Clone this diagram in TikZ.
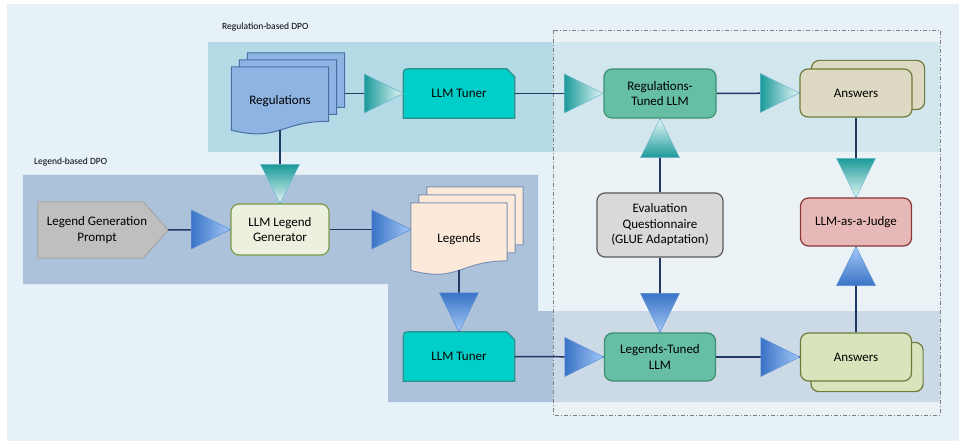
\documentclass[tikz,border=0pt]{standalone}
\usepackage{fontspec}
\setmainfont{Carlito}
\usetikzlibrary{calc}

\pgfdeclarelayer{back}
\pgfdeclarelayer{shapes}
\pgfsetlayers{back,shapes,main}

\definecolor{outerbg}{HTML}{E7F2F8}
\definecolor{regband}{HTML}{B4DAE6}
\definecolor{legband}{HTML}{ABC2DA}
\definecolor{evalfill}{HTML}{EEF2F4}
\definecolor{evalline}{HTML}{7F7F7F}
\definecolor{regfill}{HTML}{8EB4E3}
\definecolor{regdraw}{HTML}{4A6FA5}
\definecolor{tunerfill}{HTML}{00CFC9}
\definecolor{tunerdraw}{HTML}{2F8F8A}
\definecolor{tunedfill}{HTML}{66BFA4}
\definecolor{tuneddraw}{HTML}{3E8E72}
\definecolor{ansAfill}{HTML}{DDD9C3}
\definecolor{ansBfill}{HTML}{D8E4BC}
\definecolor{ansdraw}{HTML}{6D7C3B}
\definecolor{judgefill}{HTML}{E6B8B7}
\definecolor{judgedraw}{HTML}{8C3836}
\definecolor{questfill}{HTML}{D9D9D9}
\definecolor{questdraw}{HTML}{595959}
\definecolor{promptfill}{HTML}{BFBFBF}
\definecolor{promptdraw}{HTML}{A5A5A5}
\definecolor{genfill}{HTML}{EBF1DE}
\definecolor{gendraw}{HTML}{7A9A45}
\definecolor{legfill}{HTML}{FDE9D9}
\definecolor{legdraw}{HTML}{7D93B5}
\definecolor{navy}{HTML}{1F3864}
\definecolor{tealdk}{HTML}{1A9A9A}
\definecolor{teallt}{HTML}{E6F6F6}
\definecolor{tealedge}{HTML}{6EB7CF}
\definecolor{bluedk}{HTML}{3A73C6}
\definecolor{bluelt}{HTML}{A3C8F8}
\definecolor{blueedge}{HTML}{5B8ED6}

% one page of a document stack, shifted by (#2,#3)
\newcommand{\docpage}[4]{%
  \draw[#4] ($(#1.north west)+(#2,#3)$) -- ($(#1.north east)+(#2,#3)$)
    -- ($(#1.north east)!0.802!(#1.south east)+(#2,#3)$)
    .. controls ($(#1.north)!0.802!(#1.south)+(#2,#3)$) and ($(#1.north)!1.1075!(#1.south)+(#2,#3)$)
    .. ($(#1.north west)!0.934!(#1.south west)+(#2,#3)$) -- cycle;}
% tuner outline: snipped top right, rounded top left
\newcommand{\tunershape}[1]{%
  \draw[tunerline] (#1.south west) -- (#1.south east) -- ($(#1.north east)+(0,8)$)
    -- ($(#1.north east)+(-8,0)$) -- ($(#1.north west)+(8,0)$)
    .. controls (#1.north west) .. ($(#1.north west)+(0,8)$) -- cycle;}
% big triangle heads, apex at #1
\newcommand{\triR}[2]{\draw[#2] (#1) -- ++(-39,-19.5) -- ++(0,39) -- cycle;}
\newcommand{\triD}[2]{\draw[#2] (#1) -- ++(-19.5,-39) -- ++(39,0) -- cycle;}
\newcommand{\triU}[2]{\draw[#2] (#1) -- ++(-19.5,39) -- ++(39,0) -- cycle;}

\begin{document}
\begin{tikzpicture}[x=1pt, y=-1pt, font=\fontsize{13}{15.5}\selectfont,
  box/.style={draw, line width=1.2pt, rounded corners=8pt, minimum width=111pt, minimum height=48pt, align=center, inner sep=2pt},
  doc/.style={minimum width=97pt, minimum height=67.5pt, inner sep=0pt, align=center},
  tuner/.style={minimum width=111pt, minimum height=49pt, inner sep=0pt},
  tunerline/.style={fill=tunerfill, draw=tunerdraw, line width=1.2pt},
  lbl/.style={font=\fontsize{9.5}{11}\selectfont, anchor=west, inner sep=0pt},
  conn/.style={draw=navy, line width=1.5pt},
  tealR/.style={left color=tealdk, right color=teallt, draw=tealedge, line width=0.5pt},
  tealD/.style={top color=tealdk, bottom color=teallt, draw=tealedge, line width=0.5pt},
  tealU/.style={bottom color=tealdk, top color=teallt, draw=tealedge, line width=0.5pt},
  blueR/.style={left color=bluedk, right color=bluelt, draw=blueedge, line width=0.5pt},
  blueD/.style={top color=bluedk, bottom color=bluelt, draw=blueedge, line width=0.5pt},
  blueU/.style={bottom color=bluedk, top color=bluelt, draw=blueedge, line width=0.5pt}]
\useasboundingbox (0,0) rectangle (959,441);

% Bands
\begin{pgfonlayer}{back}
\fill[outerbg] (7,4) rectangle (959,441);
\fill[regband] (208,42) rectangle (940,152);
\fill[legband] (23,175) -- (538,175) -- (538,311) -- (940,311) -- (940,402) -- (388,402) -- (388,284) -- (23,284) -- cycle;
\fill[evalfill, opacity=0.5] (553,30) rectangle (940,415);
\draw[evalline, line width=0.8pt, dash pattern=on 4pt off 2pt on 1pt off 2pt] (553,30) rectangle (940,415);
\end{pgfonlayer}
\node[lbl] (reglbl) at (222,27) {Regulation-based DPO};
\node[lbl] (leglbl) at (34,162) {Legend-based DPO};

% Regulation-based DPO
\node[doc] (reg) at (280,100.75) {Regulations};
\node[tuner] (tun1) at (459,93.5) {LLM Tuner};
\node[box, fill=tunedfill, draw=tuneddraw, minimum width=112pt, minimum height=49pt] (rtl) at (660,93.5) {Regulations-\\Tuned LLM};
\node[box, fill=ansAfill, draw=ansdraw, minimum width=112pt] (ans1) at (856,93) {Answers};

% Evaluation
\node[box, fill=questfill, draw=questdraw, minimum width=126pt, minimum height=64pt] (quest) at (660,225) {Evaluation\\Questionnaire\\(GLUE Adaptation)};
\node[box, fill=judgefill, draw=judgedraw] (judge) at (856,222) {LLM-as-a-Judge};

% Legend-based DPO
\node[minimum width=118pt, minimum height=56pt, inner sep=0pt, align=center] (prompt) at (97,230) {Legend Generation\\Prompt};
\node[box, fill=genfill, draw=gendraw, minimum width=98pt, minimum height=51pt] (gen) at (280,229.5) {LLM Legend\\Generator};
\node[doc, minimum width=96pt, minimum height=72pt] (leg) at (459,239) {Legends};
\node[tuner] (tun2) at (459,356.5) {LLM Tuner};
\node[box, fill=tunedfill, draw=tuneddraw] (ltl) at (660,357) {Legends-Tuned\\LLM};
\node[box, fill=ansBfill, draw=ansdraw] (ans2) at (856,357) {Answers};

% Shapes behind the texts
\begin{pgfonlayer}{shapes}
\docpage{reg}{16}{-14}{fill=regfill, draw=regdraw, line width=1pt}
\docpage{reg}{8}{-7}{fill=regfill, draw=regdraw, line width=1pt}
\docpage{reg}{0}{0}{fill=regfill, draw=regdraw, line width=1pt}
\docpage{leg}{16}{-16}{fill=legfill, draw=legdraw, line width=1pt}
\docpage{leg}{8}{-8}{fill=legfill, draw=legdraw, line width=1pt}
\docpage{leg}{0}{0}{fill=legfill, draw=legdraw, line width=1pt}
\tunershape{tun1}
\tunershape{tun2}
\draw[fill=promptfill, draw=promptdraw, line width=1pt] (prompt.north west) -- ($(prompt.north east)+(-13,0)$) -- ($(prompt.east)+(12,0)$) -- ($(prompt.south east)+(-13,0)$) -- (prompt.south west) -- cycle;
\draw[fill=ansAfill, draw=ansdraw, line width=1.2pt, rounded corners=8pt] ($(ans1.south west)+(12,-8)$) rectangle ($(ans1.north east)+(12,-8)$);
\draw[fill=ansBfill, draw=ansdraw, line width=1.2pt, rounded corners=8pt] ($(ans2.south west)+(11,10)$) rectangle ($(ans2.north east)+(11,10)$);
\end{pgfonlayer}

% Connectors
\draw[conn] ($(reg.east |- tun1.west)+(16,0)$) -- (tun1.west);
\draw[conn] (tun1.east) -- (rtl.west);
\draw[conn] (rtl.east) -- (ans1.west);
\draw[conn] (ans1.south) -- (judge.north);
\draw[conn] (quest.north) -- (rtl.south);
\draw[conn] (quest.south) -- (ltl.north);
\draw[conn] (ans2.north) -- (judge.south);
\draw[conn] ($(reg.north)!0.93!(reg.south)$) -- (gen.north);
\draw[conn] ($(prompt.east)+(12,0)$) -- (gen.west);
\draw[conn] (gen.east) -- (gen.east -| leg.west);
\draw[conn] ($(leg.north)!0.93!(leg.south)$) -- (tun2.north);
\draw[conn] (tun2.east) -- (ltl.west);
\draw[conn] (ltl.east) -- (ans2.west);

% Heads
\triR{tun1.west}{tealR}
\triR{rtl.west}{tealR}
\triR{ans1.west}{tealR}
\triD{judge.north}{tealD}
\triU{rtl.south}{tealU}
\triD{gen.north}{tealD}
\triR{gen.west}{blueR}
\triR{gen.east -| leg.west}{blueR}
\triD{tun2.north}{blueD}
\triR{ltl.west}{blueR}
\triR{ans2.west}{blueR}
\triD{ltl.north}{blueD}
\triU{judge.south}{blueU}

\end{tikzpicture}
\end{document}
